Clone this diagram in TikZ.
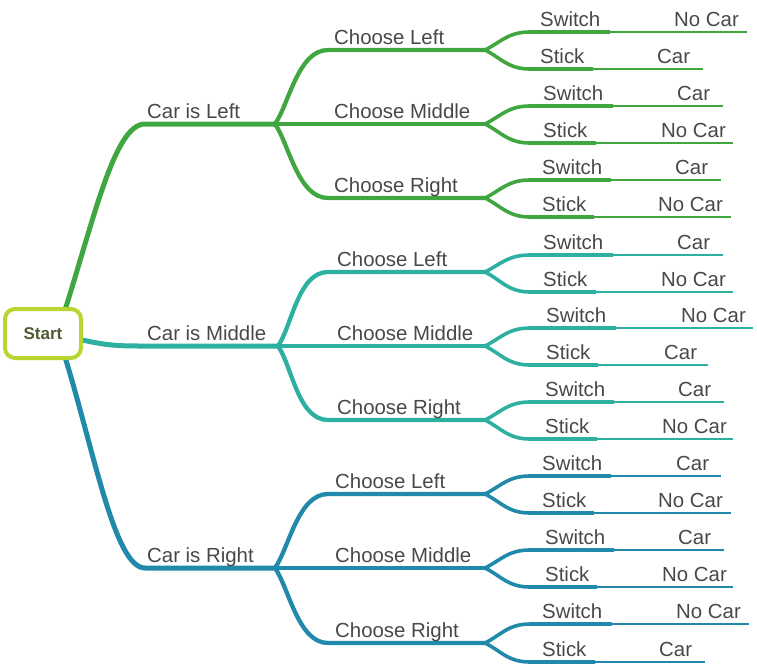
\documentclass[tikz,border=0pt]{standalone}
\usepackage{fontspec}
\setmainfont{Liberation Sans}
\definecolor{cg}{RGB}{63,166,64}
\definecolor{ct}{RGB}{46,176,160}
\definecolor{cb}{RGB}{33,137,170}
\definecolor{lime}{RGB}{184,214,48}
\definecolor{txt}{RGB}{72,72,72}
\definecolor{startc}{RGB}{80,92,50}
\pgfdeclarelayer{bglayer}
\pgfsetlayers{bglayer,main}
\begin{document}
\begin{tikzpicture}[x=1pt,y=-1pt,
  lab/.style={font=\fontsize{20.4}{24}\selectfont, text=txt, inner sep=0pt, anchor=base west},
  lone/.style={line width=5pt, line cap=round},
  ltwo/.style={line width=4.3pt},
  lthree/.style={line width=3.6pt},
  lfour/.style={line width=2.2pt},
  startbox/.style={draw=lime, line width=4pt, rounded corners=10pt, fill=white,
    minimum width=76pt, minimum height=49pt, inner sep=0pt,
    font=\fontsize{17}{20}\selectfont\bfseries, text=startc}]
\useasboundingbox (0,0) rectangle (757,667);

\node[startbox] (start) at (43,333.5) {Start};

\coordinate (bg) at (275,124);
\coordinate (bt) at (278,346);
\coordinate (bb) at (275,568);

\begin{pgfonlayer}{bglayer}
\draw[lone,color=cg] ([xshift=22pt,yshift=-3pt]start.north) .. controls (95,215) and (115,124) .. (145,124) -- (bg);
\draw[lone,color=ct] ([xshift=-3pt,yshift=-6pt]start.east) .. controls (105,345) and (115,346) .. (140,346) -- (bt);
\draw[lone,color=cb] ([xshift=22pt,yshift=3pt]start.south) .. controls (95,455) and (115,568) .. (145,568) -- (bb);

\foreach \n/\pa/\yy/\dd/\cl in {g1/bg/50/-1/cg, g2/bg/124/0/cg, g3/bg/198/1/cg,
  t1/bt/272/-1/ct, t2/bt/346/0/ct, t3/bt/420/1/ct,
  b1/bb/494/-1/cb, b2/bb/568/0/cb, b3/bb/643/1/cb}
{
  \coordinate (q\n) at (328,\yy);
  \coordinate (p\n) at (485,\yy);
  \draw[ltwo,color=\cl] (\pa) .. controls +(14,20*\dd) and +(-30,0) .. (q\n) -- (p\n);
}

\foreach \n/\pa/\yy/\dd/\tx/\ex/\cl in {
  1/pg1/32/-1/610/747/cg, 2/pg1/69/1/593/703/cg,
  3/pg2/106/-1/613/723/cg, 4/pg2/143/1/596/733/cg,
  5/pg3/180/-1/611/721/cg, 6/pg3/217/1/594/731/cg,
  7/pt1/255/-1/613/723/ct, 8/pt1/292/1/596/733/ct,
  9/pt2/328/-1/616/753/ct, 10/pt2/365/1/598/708/ct,
  11/pt3/402/-1/614/724/ct, 12/pt3/439/1/597/733/ct,
  13/pb1/476/-1/611/721/cb, 14/pb1/513/1/594/731/cb,
  15/pb2/550/-1/614/724/cb, 16/pb2/587/1/597/733/cb,
  17/pb3/624/-1/612/749/cb, 18/pb3/662/1/595/705/cb}
{
  \coordinate (a\n) at (530,\yy);
  \coordinate (m\n) at (\tx,\yy);
  \coordinate (e\n) at (\ex,\yy);
  \draw[lthree,color=\cl] (\pa) .. controls +(16,8*\dd) and +(-22,0) .. (a\n) -- (m\n);
  \draw[lfour,color=\cl] (m\n) -- (e\n);
}
\end{pgfonlayer}

\node[lab] (c1) at (147,118) {Car is Left};
\node[lab] (c2) at (147,340) {Car is Middle};
\node[lab] (c3) at (147,562) {Car is Right};

\foreach \n/\yy/\lx/\lt in {g1/50/334/Choose Left, g2/124/334/Choose Middle, g3/198/334/Choose Right,
  t1/272/337/Choose Left, t2/346/337/Choose Middle, t3/420/337/Choose Right,
  b1/494/335/Choose Left, b2/568/335/Choose Middle, b3/643/335/Choose Right}
{
  \node[lab] (h\n) at (\lx,\yy-6) {\lt};
}

\foreach \n/\yy/\lx/\lt/\rx/\rt in {
  1/32/540/Switch/674/No Car, 2/69/540/Stick/657/Car,
  3/106/543/Switch/677/Car, 4/143/543/Stick/661/No Car,
  5/180/542/Switch/675/Car, 6/217/542/Stick/658/No Car,
  7/255/543/Switch/677/Car, 8/292/543/Stick/661/No Car,
  9/328/546/Switch/681/No Car, 10/365/546/Stick/664/Car,
  11/402/545/Switch/678/Car, 12/439/545/Stick/662/No Car,
  13/476/542/Switch/676/Car, 14/513/542/Stick/658/No Car,
  15/550/545/Switch/678/Car, 16/587/545/Stick/662/No Car,
  17/624/542/Switch/676/No Car, 18/662/542/Stick/659/Car}
{
  \node[lab] (s\n) at (\lx,\yy-6) {\lt};
  \node[lab] (r\n) at (\rx,\yy-6) {\rt};
}
\end{tikzpicture}
\end{document}
